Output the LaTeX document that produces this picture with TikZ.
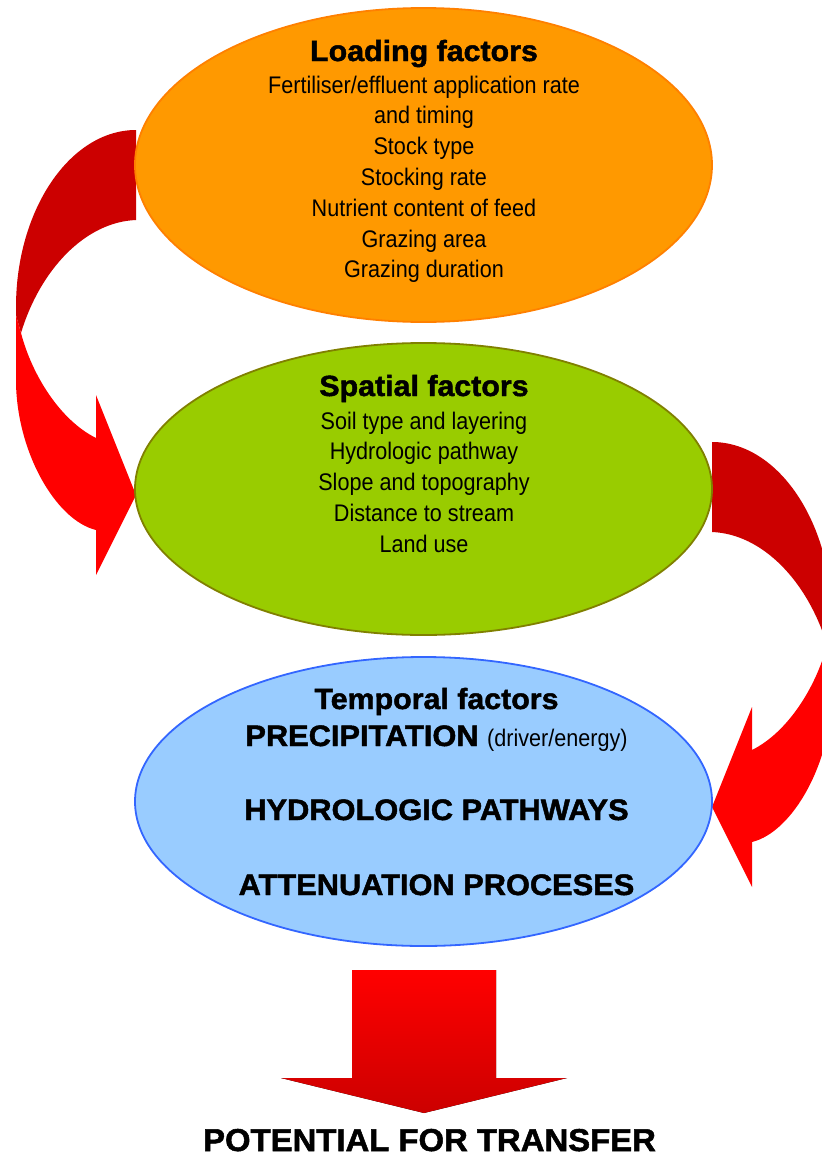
\documentclass[tikz,border=0pt]{standalone}
\usepackage{fontspec}
\setmainfont{Liberation Sans}
\newfontfamily\narrowfont[FakeStretch=0.9]{Liberation Sans}
\newfontfamily\heavyfont[FakeBold=1.6, FakeStretch=1.04]{Liberation Sans}
\usetikzlibrary{shapes.geometric}

\definecolor{loadorange}{HTML}{FF9900}
\definecolor{loadline}{HTML}{FF8000}
\definecolor{spatialgreen}{HTML}{99CC00}
\definecolor{spatialline}{HTML}{808000}
\definecolor{temporalblue}{HTML}{99CCFF}
\definecolor{temporalline}{HTML}{3366FF}
\definecolor{arrowdark}{HTML}{CC0000}
\definecolor{arrowred}{HTML}{FF0000}

\begin{document}
\begin{tikzpicture}
		[
		x=0.5pt, y=-0.5pt,
		factor/.style={ellipse, line width=0.9pt, inner sep=0pt, minimum width=288.5pt},
		bodytext/.style={font=\narrowfont\fontsize{12}{14}\selectfont, anchor=base, inner sep=0pt},
		titletext/.style={font=\heavyfont\bfseries\fontsize{14.6}{17}\selectfont, anchor=base, inner sep=0pt},
		capstext/.style={font=\heavyfont\bfseries\fontsize{14.8}{17}\selectfont, anchor=base, inner sep=0pt},
		bendarrow/.pic={
			\fill[arrowdark] (136,130) .. controls (70,130) and (16,210) .. (16,307) -- (16,315) -- (21,333) .. controls (40,270) and (85,222) .. (136,220) -- cycle;
			\fill[arrowred] (16,315) -- (16,380) .. controls (16,450) and (55,520) .. (96,530) -- (96,575) -- (136,495) -- (96,395) -- (96,438) .. controls (60,420) and (32,375) .. (21,333) -- cycle;
		}
		]
		
		%Rahmen
		\useasboundingbox (0,0) rectangle (822,1157);
		\clip (0,0) rectangle (822,1157);
		
		%gebogene Pfeile links und rechts
		\pic at (0,0) {bendarrow};
		\pic[xscale=-1] at (848,312) {bendarrow};
		
		%Ellipsen
		\node[factor, fill=loadorange, draw=loadline, minimum height=157pt] (loading) at (423.5,165) {};
		\node[factor, fill=spatialgreen, draw=spatialline, minimum height=146pt] (spatial) at (423.5,489) {};
		\node[factor, fill=temporalblue, draw=temporalline, minimum height=144.5pt] (temporal) at (423.5,801.5) {};
		
		%Loading factors
		\node[titletext] (loadtitle) at (424,61) {Loading factors};
		\foreach \txt [count=\i] in {Fertiliser/effluent application rate, and timing, Stock type, Stocking rate, Nutrient content of feed, Grazing area, Grazing duration}
			\node[bodytext] (load\i) at (424,62.2+30.8*\i) {\txt};
		
		%Spatial factors
		\node[titletext] (spatialtitle) at (424,396) {Spatial factors};
		\foreach \txt [count=\i] in {Soil type and layering, Hydrologic pathway, Slope and topography, Distance to stream, Land use}
			\node[bodytext] (spatial\i) at (424,398.2+30.8*\i) {\txt};
		
		%Temporal factors
		\node[titletext] (temptitle) at (436.5,709) {Temporal factors};
		\node[capstext] (precip) at (436.5,746) {PRECIPITATION {\narrowfont\mdseries\fontsize{12}{14}\selectfont (driver/energy)}};
		\node[capstext] (pathways) at (436.5,820) {HYDROLOGIC PATHWAYS};
		\node[capstext] (attenuation) at (436.5,895) {ATTENUATION PROCESES};
		
		%Pfeil nach unten
		\fill[top color=arrowred, bottom color=arrowdark] (352,970) -- (496,970) -- (496,1078) -- (567,1078) -- (424,1113) -- (281,1078) -- (352,1078) -- cycle;
		
		\node[capstext, font=\heavyfont\bfseries\fontsize{15.8}{18}\selectfont] (transfer) at (429.5,1151) {POTENTIAL FOR TRANSFER};
		
	\end{tikzpicture}
\end{document}
